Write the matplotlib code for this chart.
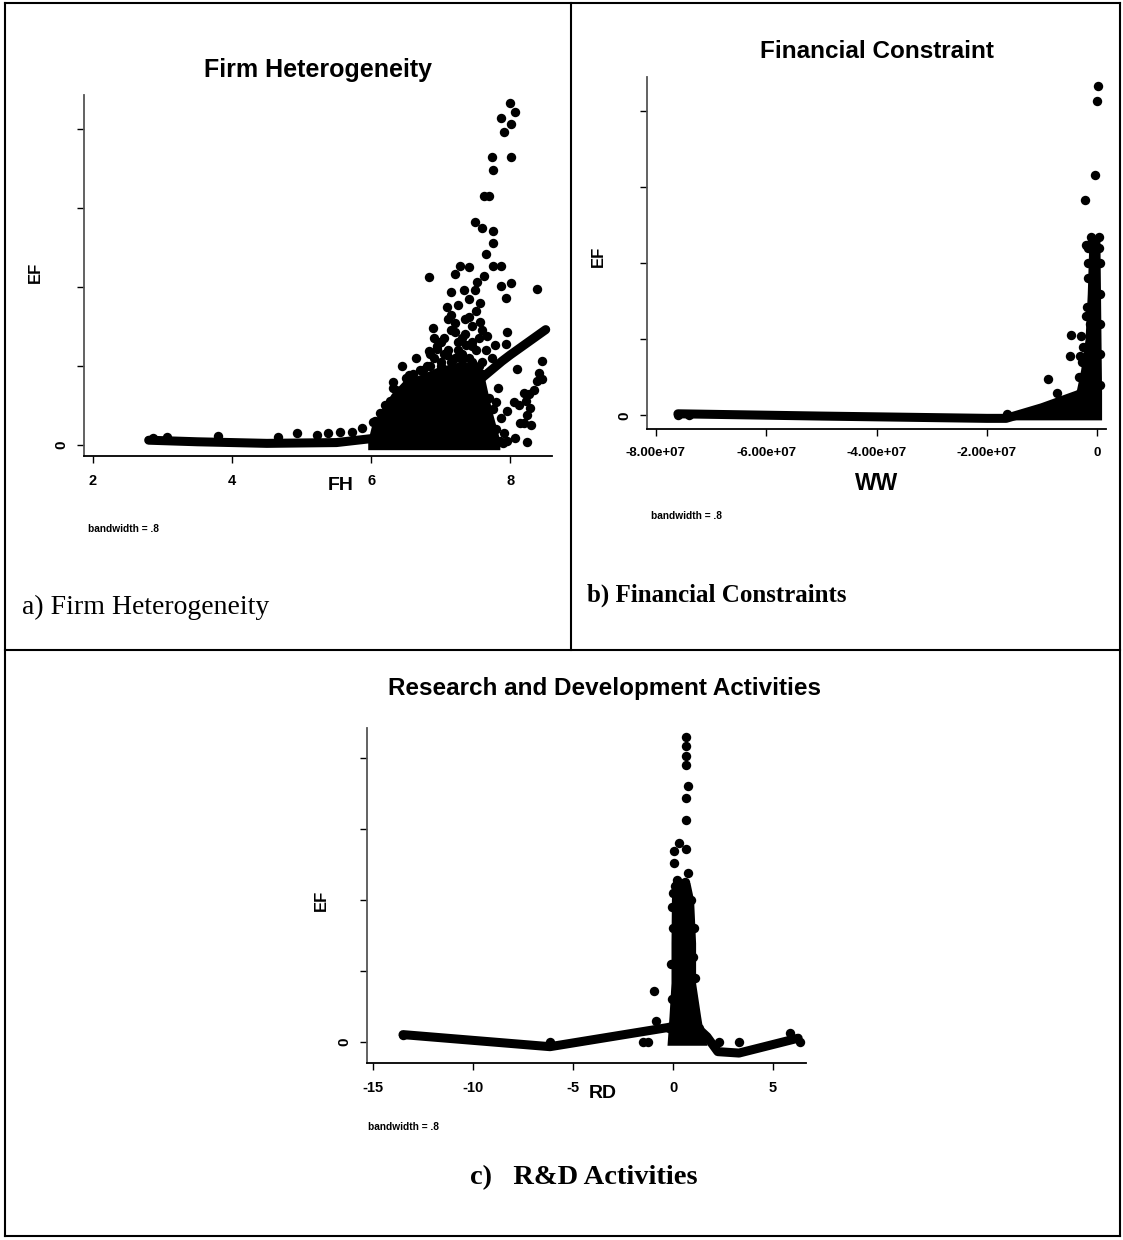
"""
Lowess scatter panels: EF against FH, WW and RD (Stata-style, three panels)
"""

import matplotlib
matplotlib.use('Agg')
import matplotlib.pyplot as plt
from matplotlib.lines import Line2D

W, H = 1123, 1240
SANS = 'Liberation Sans'
SERIF = 'Liberation Serif'

# ── a) Firm Heterogeneity ───────────────────────────────────────────────
fh_x = [2.86, 3.06, 3.8, 4.66, 4.93, 5.22, 5.38, 5.55, 5.73, 5.87, 6.03, 6.13, 6.27,
        7.99, 7.86, 8.07, 7.91, 8.01, 8.01, 7.73, 7.75, 7.62, 7.69, 7.49, 7.59, 7.75,
        7.75, 7.65, 7.75, 7.28, 7.41, 7.20, 6.83, 7.86, 7.62, 7.52, 7.86, 8.01, 8.38,
        7.15, 7.33, 7.49, 7.94, 7.09, 7.25, 7.57, 7.15, 7.41, 7.57, 6.89, 7.96, 7.20,
        7.67, 6.99, 7.36, 7.78, 7.94, 6.83, 7.09, 8.46, 7.73, 8.09, 8.41, 8.38, 8.46,
        6.31, 6.55, 7.83, 7.80, 8.27, 8.34, 8.22, 8.12, 8.06, 7.96, 7.86, 8.20, 8.07,
        8.24, 7.91, 6.31, 6.36, 6.55, 8.24, 8.14, 8.28, 8.30, 8.20, 6.80, 6.90, 7.00,
        7.10, 7.20, 7.30, 7.40, 7.50, 7.55, 7.00, 7.30, 7.45, 6.95, 7.60, 6.70,
        6.05, 6.20, 6.35, 6.50, 6.60, 6.75, 6.85, 7.00, 7.15, 7.30, 7.45, 7.60, 7.70,
        7.75, 7.80, 7.85, 7.90, 6.85, 6.95, 7.05, 7.15, 7.25, 7.35, 7.45, 7.55, 7.65,
        7.05, 7.25, 7.45, 7.60, 7.35, 7.20, 7.50, 7.10, 6.90, 6.45, 6.65, 7.95, 7.40]
fh_y = [0.09, 0.10, 0.11, 0.10, 0.15, 0.13, 0.15, 0.16, 0.17, 0.21, 0.29, 0.40, 0.55,
        4.33, 4.14, 4.21, 3.96, 4.06, 3.64, 3.65, 3.48, 3.15, 3.15, 2.82, 2.75, 2.71,
        2.56, 2.42, 2.27, 2.27, 2.25, 2.17, 2.13, 2.27, 2.14, 2.06, 2.01, 2.05, 1.97,
        1.93, 1.96, 1.96, 1.86, 1.75, 1.77, 1.80, 1.64, 1.62, 1.56, 1.48, 1.43, 1.43,
        1.38, 1.30, 1.27, 1.27, 1.28, 1.19, 1.14, 1.06, 1.10, 0.96, 0.91, 0.81, 0.84,
        0.80, 0.88, 0.72, 0.54, 0.64, 0.70, 0.56, 0.51, 0.54, 0.43, 0.34, 0.28, 0.09,
        0.04, 0.15, 0.72, 0.56, 0.77, 0.38, 0.28, 0.47, 0.25, 0.66, 1.00, 1.10, 1.05,
        1.20, 1.10, 1.15, 1.10, 1.20, 1.00, 1.30, 1.35, 1.25, 1.22, 1.05, 0.95,
        0.30, 0.50, 0.70, 0.85, 0.90, 0.95, 1.00, 1.00, 1.05, 1.08, 1.05, 0.90, 0.60,
        0.45, 0.20, 0.05, 0.03, 1.15, 1.25, 1.35, 1.45, 1.30, 1.40, 1.50, 1.35, 1.20,
        1.15, 1.20, 1.30, 1.45, 1.60, 1.55, 1.70, 1.60, 1.35, 1.00, 1.10, 0.05, 1.85]
# dense mass of overlapping markers (upper edge)
fh_mass_x = [5.95, 6.00, 6.13, 6.29, 6.47, 6.73, 6.94, 7.25, 7.47, 7.63, 7.73, 7.85]
fh_mass_top = [0.05, 0.23, 0.43, 0.65, 0.82, 0.90, 0.98, 1.05, 1.05, 0.85, 0.45, 0.06]
fh_fit_x = [2.8, 3.5, 4.5, 5.5, 6.0, 6.5, 7.0, 7.5, 7.88, 8.0, 8.51]
fh_fit_y = [0.06, 0.04, 0.02, 0.03, 0.08, 0.22, 0.45, 0.78, 1.06, 1.14, 1.46]

# ── b) Financial Constraints ────────────────────────────────────────────
ww_x = [-7.6e7, -7.4e7, 0.02e7, -0.01e7, -0.04e7, -0.22e7, -0.19e7, -0.47e7, -0.49e7,
        -0.31e7, -0.30e7, -0.89e7, -0.73e7, -1.63e7, -0.20e7, -0.13e7, -0.15e7,
        -0.25e7, -0.10e7, -0.05e7, 0.03e7,
        -0.17e7, -0.17e7, -0.16e7, -0.12e7, 0.03e7, 0.05e7, 0.05e7, 0.05e7, 0.05e7,
        0.05e7, -0.20e7, -0.25e7, -0.28e7, -0.33e7, -0.60e7, -0.40e7, -1.20e7]
ww_y = [0.0, 0.0, 4.33, 4.13, 3.16, 2.83, 1.42, 1.05, 0.78, 0.78, 1.04, 0.48, 0.29,
        0.02, 2.24, 1.20, 0.93, 0.71, 2.30, 2.30, 2.20,
        1.80, 2.00, 2.20, 2.35, 2.35, 2.00, 1.60, 1.20, 0.80, 0.40, 1.30, 0.90, 0.70,
        0.50, 0.12, 0.05, 0.03]
ww_mass_x = [-1.65e7, -1.0e7, -0.38e7, -0.30e7, -0.22e7, -0.18e7, -0.15e7, 0.0,
             0.05e7, 0.08e7]
ww_mass_top = [-0.02, 0.12, 0.32, 0.60, 1.00, 1.60, 2.30, 2.35, 2.30, 0.30]
ww_fit_x = [-7.6e7, -5.0e7, -2.0e7, -1.65e7, -1.0e7, -0.35e7, 0.0]
ww_fit_y = [0.02, -0.01, -0.04, -0.04, 0.10, 0.27, 0.40]

# ── c) R&D Activities ───────────────────────────────────────────────────
rd_x = [0.67, 0.67, 0.67, 0.64, 0.73, 0.64, 0.64, 0.31, 0.06, 0.64, 0.06, 0.73,
        5.85, 6.35, -6.15, -13.5, -0.97, -0.83, -1.24, -1.50, 2.28, 3.28, 1.53,
        0.10, 0.90, 0.00, 1.00, -0.05, -0.05, 1.05, -0.10, 1.10, 0.00, 1.00,
        -0.20, 1.30, 0.20, 0.60]
rd_y = [4.30, 4.16, 4.02, 3.90, 3.60, 3.44, 3.12, 2.80, 2.68, 2.71, 2.52, 2.38,
        0.12, 0.00, 0.00, 0.10, 0.71, 0.29, 0.00, 0.00, 0.00, 0.00, 0.07,
        2.20, 2.00, 1.60, 1.20, 0.60, 1.90, 1.60, 1.10, 0.90, 2.10, 0.40,
        0.20, 0.20, 2.28, 2.25]
rd_mass_y = [-0.05, 0.15, 0.36, 0.83, 1.39, 2.00, 2.24, 2.30]
rd_mass_left = [-0.30, -0.25, -0.20, -0.10, -0.10, -0.08, -0.05, 0.10]
rd_mass_right = [1.70, 1.50, 1.38, 1.13, 1.13, 1.03, 0.85, 0.65]
rd_fit_x = [-13.5, -6.15, -0.25, 0.5, 1.2, 1.7, 2.24, 3.3, 6.26]
rd_fit_y = [0.10, -0.07, 0.20, 0.25, 0.20, 0.07, -0.14, -0.16, 0.05]


def px_axes(fig, left, top, right, bottom):
    return fig.add_axes([left / W, 1 - bottom / H, (right - left) / W, (bottom - top) / H])


def stata_axes(ax, xlim, ylim, xticks, xlabels, size=10.5):
    ax.set_xlim(*xlim)
    ax.set_ylim(*ylim)
    for s in ('top', 'right'):
        ax.spines[s].set_visible(False)
    ax.spines['left'].set_color('#555555')
    ax.spines['left'].set_linewidth(1.3)
    ax.spines['bottom'].set_linewidth(1.3)
    ax.set_yticks([0, 1, 2, 3, 4])
    ax.set_yticklabels(['0', '', '', '', ''], rotation=90, va='center',
                       fontsize=11, fontweight='bold', family=SANS)
    ax.set_xticks(xticks)
    ax.set_xticklabels(xlabels, fontsize=size, fontweight='bold', family=SANS)
    ax.tick_params(direction='out', length=5, width=1)
    ax.tick_params(axis='x', pad=8)
    ax.tick_params(axis='y', pad=6)


def ftext(fig, x, y, s, **kw):
    fig.text(x / W, 1 - y / H, s, **kw)


fig = plt.figure(figsize=(W / 100, H / 100), dpi=100)
fig.patch.set_facecolor('white')

MS = 46
FIT_LW = 6.5

# panel a
ax = px_axes(fig, 84, 95, 552, 456)
stata_axes(ax, (1.87, 8.6), (-0.14, 4.43), [2, 4, 6, 8], ['2', '4', '6', '8'])
ax.fill_between(fh_mass_x, -0.06, fh_mass_top, color='black', lw=0, zorder=2)
ax.scatter(fh_x, fh_y, s=MS, color='black', lw=0, zorder=3)
ax.plot(fh_fit_x, fh_fit_y, color='black', lw=FIT_LW, solid_capstyle='round', zorder=4)

# panel b
ax = px_axes(fig, 647, 77, 1106, 429)
stata_axes(ax, (-8.16e7, 0.16e7), (-0.18, 4.45),
           [-8e7, -6e7, -4e7, -2e7, 0],
           ['-8.00e+07', '-6.00e+07', '-4.00e+07', '-2.00e+07', '0'], size=9.5)
ax.fill_between(ww_mass_x, -0.06, ww_mass_top, color='black', lw=0, zorder=2)
ax.scatter(ww_x, ww_y, s=MS, color='black', lw=0, zorder=3)
ax.plot(ww_fit_x, ww_fit_y, color='black', lw=FIT_LW, solid_capstyle='round', zorder=4)

# panel c
ax = px_axes(fig, 367, 728, 806, 1063)
stata_axes(ax, (-15.3, 6.65), (-0.30, 4.42), [-15, -10, -5, 0, 5],
           ['-15', '-10', '-5', '0', '5'])
ax.fill_betweenx(rd_mass_y, rd_mass_left, rd_mass_right, color='black', lw=0, zorder=2)
ax.scatter(rd_x, rd_y, s=MS, color='black', lw=0, zorder=3)
ax.plot(rd_fit_x, rd_fit_y, color='black', lw=FIT_LW, solid_capstyle='round', zorder=4)

# titles, axis titles, notes
bold = dict(family=SANS, fontweight='bold', color='black', ha='center', va='center')
ftext(fig, 318, 70, 'Firm Heterogeneity', fontsize=18, **bold)
ftext(fig, 877, 52, 'Financial Constraint', fontsize=17.5, **bold)
ftext(fig, 604, 688, 'Research and Development Activities', fontsize=17.5, **bold)

ftext(fig, 35, 272, 'EF', fontsize=12, rotation=90, **bold)
ftext(fig, 598, 256, 'EF', fontsize=12, rotation=90, **bold)
ftext(fig, 321, 900, 'EF', fontsize=12, rotation=90, **bold)
ftext(fig, 341, 486, 'FH', fontsize=14, **bold)
ftext(fig, 877, 483, 'WW', fontsize=16.5, **bold)
ftext(fig, 603, 1093, 'RD', fontsize=14, **bold)

note = dict(family=SANS, fontweight='bold', fontsize=7.3, ha='left', va='center')
ftext(fig, 88, 529, 'bandwidth = .8', **note)
ftext(fig, 651, 516, 'bandwidth = .8', **note)
ftext(fig, 368, 1127, 'bandwidth = .8', **note)

ftext(fig, 22, 607, 'a) Firm Heterogeneity', family=SERIF, fontsize=20, ha='left', va='center')
ftext(fig, 587, 595, 'b) Financial Constraints', family=SERIF, fontsize=18,
      fontweight='bold', ha='left', va='center')
ftext(fig, 470, 1178, 'c)   R&D Activities', family=SERIF, fontsize=20.5,
      fontweight='bold', ha='left', va='center')

# frame around the three panels
frame = [((5, 3), (1120, 3)), ((5, 1236), (1120, 1236)), ((5, 3), (5, 1236)),
         ((1120, 3), (1120, 1236)), ((571, 3), (571, 650)), ((5, 650), (1120, 650))]
for (x0, y0), (x1, y1) in frame:
    fig.add_artist(Line2D([x0 / W, x1 / W], [1 - y0 / H, 1 - y1 / H],
                          color='black', lw=1.5, transform=fig.transFigure))

fig.savefig('out.png', dpi=100)
